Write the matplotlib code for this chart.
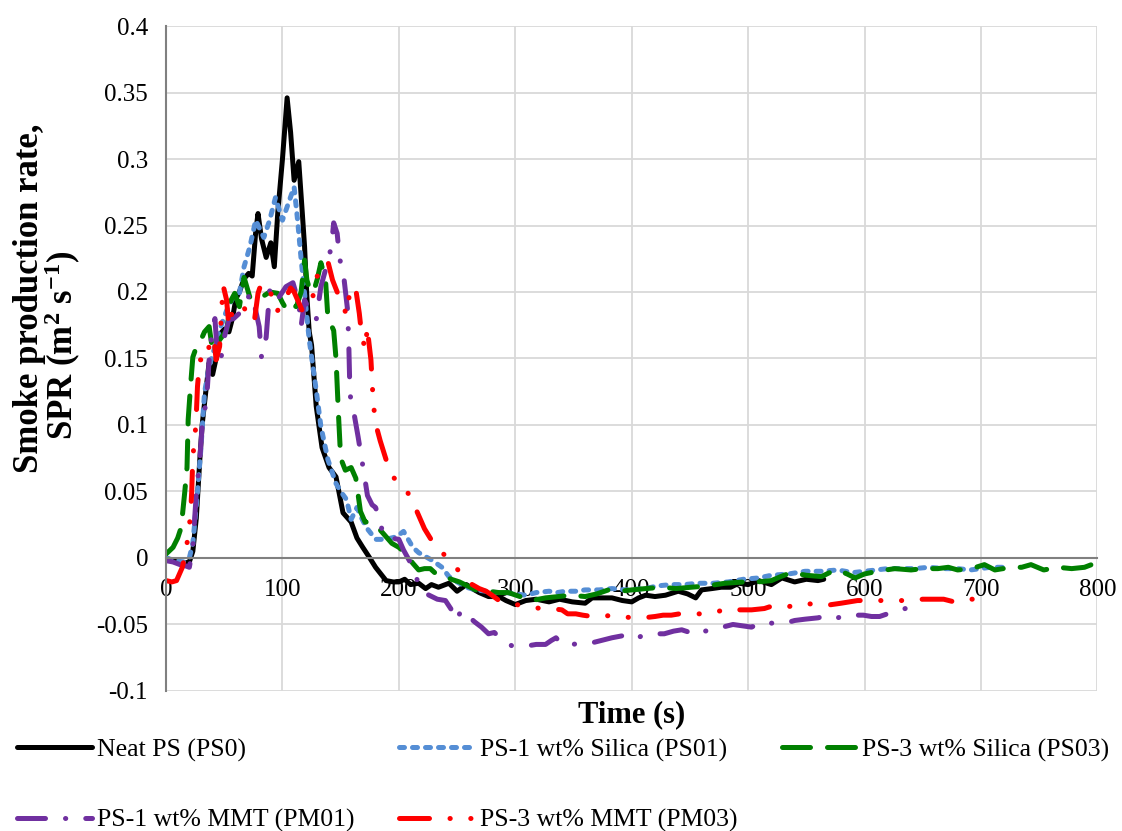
import numpy as np
import matplotlib.pyplot as plt
from matplotlib.ticker import FuncFormatter, MultipleLocator

plt.rcParams['font.family'] = ['Liberation Serif', 'DejaVu Serif']
plt.rcParams['axes.unicode_minus'] = False
plt.rcParams['mathtext.fontset'] = 'custom'
plt.rcParams['mathtext.rm'] = 'Liberation Serif:bold'
plt.rcParams['mathtext.default'] = 'rm'

# (tiempo s, SPR m2/s)
ps0 = [(0, 0.0), (5, -0.002), (10, -0.003), (15, -0.004), (20, -0.003), (23, 0.005),
       (26, 0.03), (29, 0.074), (31, 0.1), (34, 0.124), (37, 0.147), (40, 0.138),
       (43, 0.15), (46, 0.168), (50, 0.172), (54, 0.17), (57, 0.18), (60, 0.195),
       (63, 0.2), (67, 0.21), (71, 0.214), (74, 0.212), (77, 0.245), (79, 0.259),
       (82, 0.24), (86, 0.226), (90, 0.237), (93, 0.219), (96, 0.26), (100, 0.3),
       (104, 0.346), (107, 0.32), (110, 0.284), (114, 0.298), (117, 0.26), (119, 0.234),
       (121, 0.196), (123, 0.17), (125, 0.16), (129, 0.114), (134, 0.083), (140, 0.068),
       (146, 0.061), (152, 0.034), (159, 0.027), (164, 0.015), (169, 0.008), (175, 0.0),
       (180, -0.007), (189, -0.017), (195, -0.018), (200, -0.018), (205, -0.016),
       (210, -0.02), (217, -0.019), (223, -0.023), (228, -0.02), (234, -0.022),
       (243, -0.019), (250, -0.025), (258, -0.02), (263, -0.023), (269, -0.026),
       (277, -0.029), (286, -0.029), (292, -0.032), (300, -0.035), (309, -0.032),
       (318, -0.031), (329, -0.033), (338, -0.031), (349, -0.033), (360, -0.034),
       (366, -0.03), (372, -0.03), (383, -0.03), (392, -0.032), (400, -0.033),
       (406, -0.03), (412, -0.028), (420, -0.029), (429, -0.028), (440, -0.025),
       (448, -0.027), (455, -0.03), (460, -0.024), (469, -0.023), (477, -0.022),
       (485, -0.022), (492, -0.019), (500, -0.02), (509, -0.017), (520, -0.02),
       (529, -0.015), (540, -0.018), (550, -0.016), (560, -0.017), (565, -0.016)]

ps01 = [(0, 0.0), (8, -0.002), (15, -0.003), (20, 0.0), (23, 0.011), (27, 0.049),
        (30, 0.083), (33, 0.124), (37, 0.144), (42, 0.159), (47, 0.174), (52, 0.186),
        (57, 0.195), (63, 0.199), (67, 0.219), (72, 0.234), (77, 0.254), (84, 0.241),
        (89, 0.254), (94, 0.271), (100, 0.254), (104, 0.264), (110, 0.279), (113, 0.254),
        (116, 0.225), (120, 0.19), (123, 0.164), (129, 0.126), (133, 0.099), (139, 0.074),
        (146, 0.056), (150, 0.05), (155, 0.044), (159, 0.029), (164, 0.038), (168, 0.03),
        (172, 0.023), (180, 0.014), (189, 0.014), (198, 0.016), (204, 0.02), (212, 0.008),
        (217, 0.004), (229, -0.002), (237, -0.007), (243, -0.014), (250, -0.018),
        (258, -0.022), (266, -0.024), (275, -0.025), (284, -0.026), (292, -0.026),
        (300, -0.027), (309, -0.028), (318, -0.026), (329, -0.025), (336, -0.026),
        (343, -0.025), (352, -0.025), (360, -0.024), (372, -0.024), (383, -0.023),
        (395, -0.024), (412, -0.023), (422, -0.021), (434, -0.02), (445, -0.02),
        (457, -0.019), (470, -0.019), (483, -0.018), (496, -0.016), (509, -0.015),
        (520, -0.013), (535, -0.012), (549, -0.01), (563, -0.01), (577, -0.009),
        (590, -0.011), (600, -0.01), (610, -0.009), (620, -0.008), (643, -0.008),
        (655, -0.007), (669, -0.008), (680, -0.008), (691, -0.009), (708, -0.007),
        (720, -0.007)]

ps03 = [(0, 0.003), (6, 0.008), (10, 0.015), (13, 0.023), (16, 0.049), (18, 0.068),
        (19, 0.104), (21, 0.129), (23, 0.151), (25, 0.156), (29, 0.162), (33, 0.17),
        (37, 0.174), (40, 0.156), (43, 0.16), (46, 0.164), (52, 0.171), (56, 0.194),
        (59, 0.199), (63, 0.189), (67, 0.211), (72, 0.196), (77, 0.198), (82, 0.196),
        (89, 0.2), (96, 0.199), (100, 0.192), (104, 0.186), (108, 0.19), (112, 0.189),
        (116, 0.2), (119, 0.224), (121, 0.209), (124, 0.2), (127, 0.201), (130, 0.21),
        (133, 0.222), (137, 0.209), (139, 0.181), (144, 0.171), (146, 0.15), (148, 0.11),
        (150, 0.075), (154, 0.066), (159, 0.068), (163, 0.06), (167, 0.035), (171, 0.027),
        (174, 0.027), (179, 0.024), (184, 0.021), (189, 0.016), (194, 0.011), (200, 0.008),
        (206, 0.003), (212, -0.004), (217, -0.009), (222, -0.008), (227, -0.008),
        (232, -0.012), (237, -0.013), (245, -0.016), (252, -0.018), (259, -0.021),
        (266, -0.024), (276, -0.025), (286, -0.026), (294, -0.026), (304, -0.029),
        (314, -0.032), (326, -0.03), (337, -0.029), (348, -0.028), (360, -0.029),
        (370, -0.027), (380, -0.024), (390, -0.025), (400, -0.024), (412, -0.023),
        (426, -0.022), (438, -0.023), (451, -0.022), (465, -0.021), (480, -0.019),
        (497, -0.018), (508, -0.018), (520, -0.017), (528, -0.014), (537, -0.011),
        (550, -0.013), (563, -0.014), (570, -0.011), (577, -0.009), (585, -0.012),
        (592, -0.015), (600, -0.012), (611, -0.01), (626, -0.008), (640, -0.009),
        (650, -0.008), (663, -0.008), (672, -0.007), (680, -0.009), (692, -0.008),
        (703, -0.005), (712, -0.009), (726, -0.007), (735, -0.007), (743, -0.005),
        (754, -0.009), (766, -0.007), (778, -0.008), (789, -0.007), (798, -0.004)]

pm01 = [(0, -0.002), (6, -0.003), (12, -0.005), (17, -0.006), (20, -0.007), (23, 0.008),
        (26, 0.049), (29, 0.074), (31, 0.099), (35, 0.121), (37, 0.149), (40, 0.174),
        (42, 0.18), (44, 0.154), (47, 0.149), (50, 0.166), (54, 0.179), (58, 0.18),
        (63, 0.184), (68, 0.19), (72, 0.199), (76, 0.19), (80, 0.174), (82, 0.151),
        (86, 0.166), (89, 0.201), (93, 0.192), (97, 0.196), (103, 0.204), (109, 0.207),
        (114, 0.192), (116, 0.174), (119, 0.194), (124, 0.185), (129, 0.179), (133, 0.204),
        (138, 0.22), (142, 0.234), (144, 0.252), (147, 0.244), (149, 0.226), (153, 0.209),
        (156, 0.186), (157, 0.16), (158, 0.123), (162, 0.106), (165, 0.091), (170, 0.064),
        (173, 0.047), (177, 0.04), (180, 0.038), (183, 0.03), (187, 0.016), (193, 0.015),
        (200, 0.014), (204, 0.006), (209, -0.002), (213, -0.011), (216, -0.017),
        (220, -0.025), (226, -0.028), (233, -0.031), (240, -0.032), (246, -0.04),
        (249, -0.047), (254, -0.039), (260, -0.044), (265, -0.048), (271, -0.052),
        (277, -0.057), (282, -0.056), (289, -0.062), (297, -0.066), (304, -0.066),
        (311, -0.066), (318, -0.065), (326, -0.065), (331, -0.062), (335, -0.06),
        (340, -0.065), (349, -0.065), (357, -0.064), (365, -0.064), (374, -0.062),
        (383, -0.06), (389, -0.059), (395, -0.058), (403, -0.061), (410, -0.058),
        (419, -0.057), (428, -0.057), (436, -0.055), (443, -0.054), (450, -0.056),
        (457, -0.058), (463, -0.055), (469, -0.054), (478, -0.052), (487, -0.05),
        (495, -0.051), (503, -0.052), (512, -0.048), (520, -0.049), (532, -0.049),
        (540, -0.047), (549, -0.046), (560, -0.045), (569, -0.043), (577, -0.045),
        (584, -0.043), (590, -0.043), (599, -0.043), (606, -0.044), (613, -0.044),
        (623, -0.041), (630, -0.04), (635, -0.038)]

pm03 = [(0, -0.017), (5, -0.018), (9, -0.017), (14, -0.007), (17, 0.005), (19, 0.017),
        (21, 0.032), (22, 0.049), (23, 0.076), (25, 0.093), (26, 0.108), (27, 0.129),
        (29, 0.149), (31, 0.149), (33, 0.147), (35, 0.153), (37, 0.159), (41, 0.166),
        (43, 0.149), (46, 0.159), (47, 0.174), (48, 0.189), (49, 0.205), (52, 0.194),
        (54, 0.174), (57, 0.186), (61, 0.19), (66, 0.19), (70, 0.183), (72, 0.178),
        (76, 0.179), (79, 0.199), (82, 0.207), (86, 0.203), (90, 0.199), (95, 0.185),
        (99, 0.19), (102, 0.194), (107, 0.203), (110, 0.2), (113, 0.194), (117, 0.186),
        (121, 0.19), (126, 0.193), (127, 0.209), (130, 0.212), (133, 0.217), (136, 0.221),
        (139, 0.223), (141, 0.216), (143, 0.209), (147, 0.2), (150, 0.194), (155, 0.183),
        (157, 0.195), (159, 0.204), (163, 0.202), (166, 0.184), (168, 0.168), (171, 0.157),
        (173, 0.174), (174, 0.164), (176, 0.149), (177, 0.133), (178, 0.117), (180, 0.101),
        (184, 0.088), (189, 0.074), (196, 0.06), (206, 0.052), (214, 0.038), (222, 0.022),
        (229, 0.012), (234, 0.007), (240, 0.0015), (246, -0.005), (252, -0.01),
        (257, -0.015), (263, -0.02), (269, -0.023), (275, -0.025), (280, -0.028),
        (286, -0.032), (296, -0.034), (306, -0.036), (314, -0.037), (322, -0.038),
        (330, -0.038), (340, -0.039), (345, -0.042), (352, -0.042), (358, -0.043),
        (366, -0.044), (375, -0.044), (383, -0.043), (392, -0.044), (400, -0.045),
        (410, -0.045), (420, -0.044), (427, -0.043), (434, -0.043), (441, -0.042),
        (449, -0.042), (458, -0.042), (466, -0.042), (475, -0.04), (483, -0.038),
        (493, -0.039), (503, -0.039), (514, -0.038), (521, -0.036), (529, -0.037),
        (540, -0.036), (549, -0.034), (557, -0.035), (565, -0.036), (572, -0.035),
        (580, -0.034), (587, -0.033), (594, -0.032), (602, -0.032), (609, -0.032),
        (617, -0.032), (626, -0.032), (633, -0.032), (641, -0.032), (650, -0.031),
        (660, -0.031), (668, -0.031), (677, -0.033), (682, -0.032), (687, -0.031),
        (695, -0.031), (704, -0.031)]

etiquetas = ["Neat PS (PS0)", "PS-1 wt% Silica (PS01)", "PS-3 wt% Silica (PS03)",
             "PS-1 wt% MMT (PM01)", "PS-3 wt% MMT (PM03)"]
series = [ps0, ps01, ps03, pm01, pm03]
colores = ['#000000', '#558ED5', '#008000', '#7030A0', '#FF0000']
estilos = ['-', (0, (1.0, 1.6)), (0, (5.6, 3.4)), (0, (5.6, 4.0, 0.05, 4.0)),
           (0, (6.0, 4.1, 0.05, 4.1, 0.05, 4.1))]

fig = plt.figure(figsize=(11.22, 8.31), dpi=100)
ax = fig.add_axes([0.148, 0.1685, 0.830, 0.8002])

lineas = []
for datos, lab, c, ls in zip(series, etiquetas, colores, estilos):
    d = np.array(datos)
    l, = ax.plot(d[:, 0], d[:, 1], color=c, ls=ls, lw=3.6, label=lab,
                 dash_capstyle='round', solid_capstyle='round', solid_joinstyle='round')
    lineas.append(l)

ax.set_xlim(0, 800)
ax.set_ylim(-0.1, 0.4)
ax.xaxis.set_major_locator(MultipleLocator(100))
ax.yaxis.set_major_locator(MultipleLocator(0.05))
ax.yaxis.set_major_formatter(FuncFormatter(lambda v, p: f"{round(v, 2):g}"))
ax.grid(True, color='#D9D9D9', lw=1.3)
ax.set_axisbelow(True)
for s in ['top', 'right']:
    ax.spines[s].set_visible(False)
ax.spines['bottom'].set_position(('data', 0))
ax.spines['bottom'].set_color('#808080')
ax.spines['left'].set_color('#808080')
ax.spines['bottom'].set_linewidth(1.5)
ax.spines['left'].set_linewidth(1.5)
ax.tick_params(axis='both', length=0, labelsize=18)
ax.tick_params(axis='x', pad=15)
ax.tick_params(axis='y', pad=13)

fig.text(0.5633, 0.1396, "Time (s)", fontsize=22, fontweight='bold', ha='center', va='center')
# etiqueta del eje y en dos lineas, como en el original
fig.text(0.026, 0.641, "Smoke production rate,", fontsize=25, fontweight='bold',
         rotation=90, ha='center', va='center')
fig.text(0.056, 0.585, "SPR (m$^{2}$ s$^{-1}$)", fontsize=25, fontweight='bold',
         rotation=90, ha='center', va='center')

orden = [0, 3, 1, 4, 2]
fig.legend([lineas[i] for i in orden], [etiquetas[i] for i in orden],
           loc='center left', bbox_to_anchor=(0.015, 0.055), ncol=3, frameon=False,
           fontsize=18.5, handlelength=2.92, handletextpad=0.2, columnspacing=1.75,
           labelspacing=1.85, borderpad=0, borderaxespad=0)

plt.savefig('out.png', dpi=100)
